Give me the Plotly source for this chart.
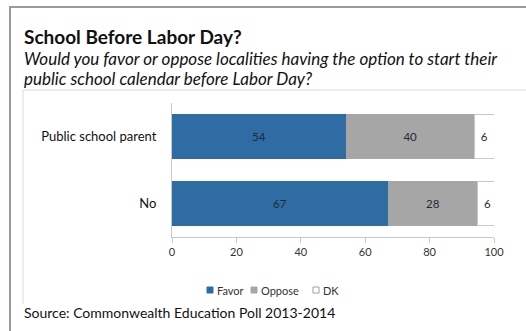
import plotly.graph_objects as go

categories = ["Public school parent", "No"]
favor = [54, 67]
oppose = [40, 28]
dk = [6, 6]
x_ticks = [0, 20, 40, 60, 80, 100]

W, H = 526, 331
L, R, T, B = 172, 32, 103, 94
PW, PH = W - L - R, H - T - B

def px(x):
    return (x - L) / PW

def py(y):
    return (H - B - y) / PH

FONT = "Lato"

fig = go.Figure()
series = [
    ("Favor", favor, "#2F6CA3", "rgba(0,0,0,0)", 0),
    ("Oppose", oppose, "#A6A6A6", "rgba(0,0,0,0)", 0),
    ("DK", dk, "#FFFFFF", "#C8C8C8", 1),
]
for name, vals, col, lc, lw in series:
    fig.add_trace(go.Bar(
        y=categories, x=vals, name=name, orientation="h",
        marker=dict(color=col, line=dict(color=lc, width=lw)),
        text=[str(v) for v in vals], textposition="inside",
        insidetextanchor="middle", textangle=0,
        textfont=dict(family=FONT, size=11.5, color="#1F2A36"),
        showlegend=False,
    ))

fig.update_layout(
    width=W, height=H, barmode="stack", bargap=0.34,
    margin=dict(l=L, r=R, t=T, b=B),
    paper_bgcolor="white", plot_bgcolor="white",
    font=dict(family=FONT, color="#222"),
    showlegend=False,
    xaxis=dict(range=[0, 100], tickvals=x_ticks, showgrid=False, zeroline=False,
               showline=True, linecolor="#C8C8C8", linewidth=1,
               ticks="outside", ticklen=5, tickcolor="#C8C8C8",
               tickfont=dict(size=11, color="#333"), fixedrange=True),
    yaxis=dict(autorange="reversed", showgrid=False, showline=True,
               linecolor="#C8C8C8", linewidth=1, ticks="", ticklen=0,
               ticklabelstandoff=12,
               tickfont=dict(size=13, color="#111"),
               fixedrange=True),
)

# frames
fig.add_shape(type="rect", xref="paper", yref="paper",
              x0=px(10), x1=px(540), y0=py(7), y1=py(345),
              line=dict(color="#9A9A9A", width=2), layer="below")
fig.add_shape(type="line", xref="paper", yref="paper",
              x0=px(23), x1=px(526), y0=py(90), y1=py(90),
              line=dict(color="#DADADA", width=1))
fig.add_shape(type="line", xref="paper", yref="paper",
              x0=px(23), x1=px(23), y0=py(90), y1=py(304),
              line=dict(color="#DADADA", width=1))

# legend
legend_items = [("Favor", "#2F6CA3", "#2F6CA3", 207),
                ("Oppose", "#A6A6A6", "#A6A6A6", 251),
                ("DK", "#FFFFFF", "#A0A0A0", 313)]
for name, fc, lc, x0 in legend_items:
    fig.add_shape(type="rect", xref="paper", yref="paper",
                  x0=px(x0), x1=px(x0 + 6), y0=py(287), y1=py(293),
                  fillcolor=fc, line=dict(color=lc, width=1))
    fig.add_annotation(text=name, xref="paper", yref="paper",
                       x=px(x0 + 8), y=py(290), xanchor="left", yanchor="middle",
                       showarrow=False, font=dict(family=FONT, size=11, color="#333"))

fig.add_annotation(text="<b>School Before Labor Day?</b>", xref="paper", yref="paper",
                   x=px(22), y=py(37), xanchor="left", yanchor="middle", showarrow=False,
                   font=dict(family=FONT, size=19, color="#111"))
fig.add_annotation(text="<i>Would you favor or oppose localities having the option to start their</i>",
                   xref="paper", yref="paper", x=px(22), y=py(58), xanchor="left", yanchor="middle",
                   showarrow=False, font=dict(family=FONT, size=17, color="#111"))
fig.add_annotation(text="<i>public school calendar before Labor Day?</i>",
                   xref="paper", yref="paper", x=px(22), y=py(79), xanchor="left", yanchor="middle",
                   showarrow=False, font=dict(family=FONT, size=17, color="#111"))
fig.add_annotation(text="Source: Commonwealth Education Poll 2013-2014",
                   xref="paper", yref="paper", x=px(22), y=py(312), xanchor="left", yanchor="middle",
                   showarrow=False, font=dict(family=FONT, size=14, color="#111"))

fig.write_html("out.html")
